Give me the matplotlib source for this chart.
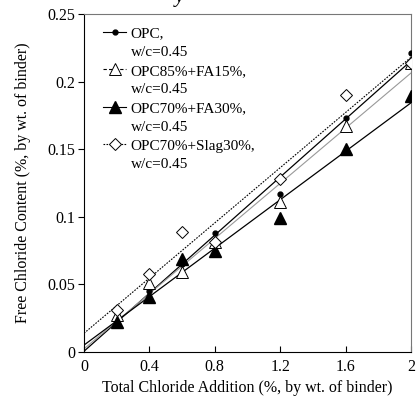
import numpy as np
import matplotlib.pyplot as plt
from matplotlib.lines import Line2D

plt.rcParams['font.family'] = ['Liberation Serif', 'DejaVu Serif']

# chloride addition (%, by wt. of binder)
x = np.array([0.2, 0.4, 0.6, 0.8, 1.2, 1.6, 2.0])

# free chloride content
opc = [0.025, 0.045, 0.065, 0.088, 0.117, 0.173, 0.221]
fa15 = [0.027, 0.051, 0.059, 0.081, 0.111, 0.167, 0.214]
fa30 = [0.022, 0.041, 0.069, 0.075, 0.099, 0.150, 0.189]
slag30 = [0.031, 0.058, 0.089, 0.081, 0.128, 0.190, 0.214]

names = ['OPC,', 'OPC85%+FA15%,', 'OPC70%+FA30%,', 'OPC70%+Slag30%,']
wc_label = 'w/c=0.45'

fig = plt.figure(figsize=(4.17, 4.0), dpi=100)
ax = fig.add_axes([0.2014, 0.12, 0.7842, 0.845])

xf = np.array([0, 2.0])
series = [
    (opc, dict(marker='o', ms=3.5, mfc='black', mec='black'), dict(color='black', lw=0.9, ls='-')),
    (fa15, dict(marker='^', ms=8, mfc='white', mec='black', mew=0.7), dict(color='#999999', lw=0.8, ls='-')),
    (fa30, dict(marker='^', ms=8, mfc='black', mec='black'), dict(color='black', lw=0.9, ls='-')),
    (slag30, dict(marker='D', ms=6.5, mfc='white', mec='black', mew=0.7), dict(color='black', lw=0.8, ls=(0, (1.5, 1.2)))),
]
legend_ls = ['-', (0, (3, 2)), '-', (0, (1.5, 1.2))]

handles, labels = [], []
for (y, mk, ln), lls, name in zip(series, legend_ls, names):
    k, b = np.polyfit(x, y, 1)
    ax.plot(xf, k * xf + b, zorder=2, **ln)
    ax.plot(x, y, ls='none', zorder=3, **mk)
    handles.append(Line2D([], [], color='black', lw=0.8, ls=lls, **mk))
    labels.append(name)
    # second line of the label, without a handle
    handles.append(Line2D([], [], ls='none'))
    labels.append(wc_label)

ax.legend(handles, labels, loc='upper left', frameon=False, fontsize=11,
          handlelength=1.5, handletextpad=0.3, labelspacing=0.33,
          borderaxespad=0.42, bbox_to_anchor=(0.02, 1.0))

ax.set_xlim(0, 2)
ax.set_ylim(0, 0.25)
ax.set_xticks([0, 0.4, 0.8, 1.2, 1.6, 2])
ax.set_xticklabels(['0', '0.4', '0.8', '1.2', '1.6', '2'])
ax.set_yticks([0, 0.05, 0.1, 0.15, 0.2, 0.25])
ax.set_yticklabels(['0', '0.05', '0.1', '0.15', '0.2', '0.25'])
ax.tick_params(axis='x', direction='in', length=4, labelsize=11.5, pad=5)
ax.tick_params(axis='y', direction='out', length=4, labelsize=11.5, pad=2)
for s in ['top', 'right']:
    ax.spines[s].set_color('#777777')
ax.set_xlabel('Total Chloride Addition (%, by wt. of binder)', fontsize=11.5, labelpad=4)
ax.set_ylabel('Free Chloride Content (%, by wt. of binder)', fontsize=11.5, labelpad=12)

# clipped remainder of a title above the figure
fig.text(0.418, 0.995, 'y', fontsize=15, style='italic', va='baseline', ha='left')

fig.savefig('out.png', dpi=100)
